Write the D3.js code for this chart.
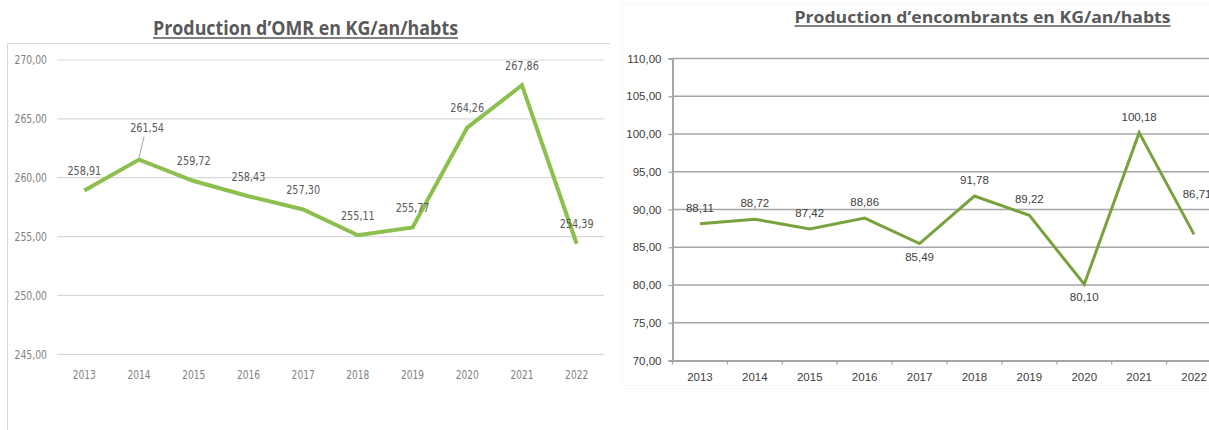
<!DOCTYPE html>
<html>
<head>
<meta charset="utf-8">
<script src="https://cdn.jsdelivr.net/npm/d3@7"></script>
<style>
  body { margin: 0; background: #fff; }
  svg { display: block; }
</style>
</head>
<body>
<svg id="chart" width="1209" height="430"></svg>
<script>
// data
const years = ["2013", "2014", "2015", "2016", "2017", "2018", "2019", "2020", "2021", "2022"];
const omrValues = [258.91, 261.54, 259.72, 258.43, 257.30, 255.11, 255.77, 264.26, 267.86, 254.39];
const omrTicks = [245, 250, 255, 260, 265, 270];
const omrLabelSide = ["above", "leader", "above", "above", "above", "above", "above", "above", "above", "above"];
const encValues = [88.11, 88.72, 87.42, 88.86, 85.49, 91.78, 89.22, 80.10, 100.18, 86.71];
const encTicks = [70, 75, 80, 85, 90, 95, 100, 105, 110];
const encLabelSide = ["above", "above", "above", "above", "below", "above", "above", "below", "above", "right"];

const fmt = v => d3.format(".2f")(v).replace(".", ",");
const narrow = "'Liberation Sans Narrow', 'DejaVu Sans Condensed', 'Liberation Sans', sans-serif";
const plain = "'Liberation Sans', 'Open Sans', sans-serif";

// squeeze a text horizontally, the left chart uses a condensed face
const condense = (sel, k) => sel.each(function () {
  const w = this.getComputedTextLength();
  d3.select(this).attr("textLength", w * k).attr("lengthAdjust", "spacingAndGlyphs");
});

const svg = d3.select("#chart");

// ---------- left chart : OMR ----------
const left = svg.append("g").attr("class", "omr");

left.append("path")
  .attr("d", "M7.5,430 V43.5 H610")
  .attr("fill", "none")
  .attr("stroke", "#d9d9d9");

const x1 = d3.scaleBand().domain(years).range([57, 604]);
const y1 = d3.scaleLinear().domain([245, 270]).range([354.3, 60]);

left.selectAll(".grid").data(omrTicks).enter()
  .append("line")
    .attr("x1", 57).attr("x2", 604)
    .attr("y1", d => y1(d)).attr("y2", d => y1(d))
    .attr("stroke", "#d9d9d9")
    .attr("stroke-width", 1.2);

left.selectAll(".ytick").data(omrTicks).enter()
  .append("text")
    .attr("x", 47).attr("y", d => y1(d))
    .attr("dy", "0.35em")
    .attr("text-anchor", "end")
    .style("font-family", narrow)
    .style("font-size", "12px")
    .attr("fill", "#7f7f7f")
    .text(fmt)
    .call(condense, 0.86);

left.selectAll(".xtick").data(years).enter()
  .append("text")
    .attr("x", d => x1(d) + x1.bandwidth() / 2).attr("y", 375)
    .attr("dy", "0.35em")
    .attr("text-anchor", "middle")
    .style("font-family", narrow)
    .style("font-size", "12px")
    .attr("fill", "#7f7f7f")
    .text(d => d)
    .call(condense, 0.84);

const line1 = d3.line()
  .x((d, i) => x1(years[i]) + x1.bandwidth() / 2)
  .y(d => y1(d));

left.append("path")
  .datum(omrValues)
  .attr("d", line1)
  .attr("fill", "none")
  .attr("stroke", "#8cbf4e")
  .attr("stroke-width", 4)
  .attr("stroke-linejoin", "miter");

omrValues.forEach((v, i) => {
  const px = x1(years[i]) + x1.bandwidth() / 2, py = y1(v);
  let lx = px, ly = py - 20;
  if (omrLabelSide[i] === "leader") {
    lx = px + 8; ly = py - 32;
    left.append("line")
      .attr("x1", lx - 3).attr("y1", ly + 9)
      .attr("x2", px).attr("y2", py - 2)
      .attr("stroke", "#a6a6a6").attr("stroke-width", 1);
  }
  left.append("text")
    .attr("x", lx).attr("y", ly)
    .attr("dy", "0.35em")
    .attr("text-anchor", "middle")
    .style("font-family", narrow)
    .style("font-size", "12.5px")
    .attr("fill", "#595959")
    .text(fmt(v))
    .call(condense, 0.86);
});

// ---------- right chart : encombrants ----------
const right = svg.append("g").attr("class", "enc");

right.append("rect")
  .attr("x", 622.5).attr("y", 4.5)
  .attr("width", 620).attr("height", 381)
  .attr("fill", "none")
  .attr("stroke", "#f6f6f6");

const x2 = d3.scaleBand().domain(years).range([672.5, 1221.5]);
const y2 = d3.scaleLinear().domain([70, 110]).range([360.5, 58.5]);

right.selectAll(".grid").data(encTicks.slice(1)).enter()
  .append("line")
    .attr("x1", 672.5).attr("x2", 1221.5)
    .attr("y1", d => y2(d)).attr("y2", d => y2(d))
    .attr("stroke", "#a6a6a6")
    .attr("stroke-width", 1.3);

const yAxis = right.append("g")
  .attr("transform", "translate(672.5,0)")
  .call(d3.axisLeft(y2).tickValues(encTicks).tickSize(4).tickPadding(7).tickFormat(fmt));

const xAxis = right.append("g")
  .attr("transform", `translate(0,${y2(70)})`)
  .call(d3.axisBottom(x2).tickSize(0).tickPadding(12));

// tick marks between categories on the x axis
right.selectAll(".xmark").data(years).enter()
  .append("line")
    .attr("x1", d => x2(d)).attr("x2", d => x2(d))
    .attr("y1", y2(70)).attr("y2", y2(70) + 4)
    .attr("stroke", "#a6a6a6").attr("stroke-width", 1.3);

[yAxis, xAxis].forEach(ax => {
  ax.select(".domain").attr("stroke", "#a6a6a6").attr("stroke-width", 2);
  ax.selectAll(".tick line").attr("stroke", "#a6a6a6").attr("stroke-width", 1.3);
  ax.selectAll(".tick text")
    .style("font-family", plain)
    .style("font-size", "11.5px")
    .attr("fill", "#404040");
});

const line2 = d3.line()
  .x((d, i) => x2(years[i]) + x2.bandwidth() / 2)
  .y(d => y2(d));

right.append("path")
  .datum(encValues)
  .attr("d", line2)
  .attr("fill", "none")
  .attr("stroke", "#77a23d")
  .attr("stroke-width", 3)
  .attr("stroke-linejoin", "miter");

encValues.forEach((v, i) => {
  const px = x2(years[i]) + x2.bandwidth() / 2, py = y2(v);
  const side = encLabelSide[i];
  const lx = side === "right" ? px + 3 : px;
  const ly = side === "below" ? py + 13 : side === "right" ? py - 40 : py - 16;
  right.append("text")
    .attr("x", lx).attr("y", ly)
    .attr("dy", "0.35em")
    .attr("text-anchor", "middle")
    .style("font-family", plain)
    .style("font-size", "11.5px")
    .attr("fill", "#404040")
    .text(fmt(v));
});

// ---------- titles ----------
function title(text, cx, baseline, size, width) {
  svg.append("text")
    .attr("x", cx).attr("y", baseline)
    .attr("text-anchor", "middle")
    .style("font-family", "'Open Sans', 'DejaVu Sans', sans-serif")
    .style("font-weight", "bold")
    .style("font-size", size + "px")
    .attr("fill", "#595959")
    .attr("textLength", width)
    .attr("lengthAdjust", "spacingAndGlyphs")
    .text(text);
  svg.append("line")
    .attr("x1", cx - width / 2).attr("x2", cx + width / 2)
    .attr("y1", baseline + 3).attr("y2", baseline + 3)
    .attr("stroke", "#595959").attr("stroke-width", 1.5);
}
title("Production d\u2019OMR en KG/an/habts", 305.5, 35, 20, 305);
title("Production d\u2019encombrants en KG/an/habts", 982.5, 23, 15.5, 376);
</script>
</body>
</html>
